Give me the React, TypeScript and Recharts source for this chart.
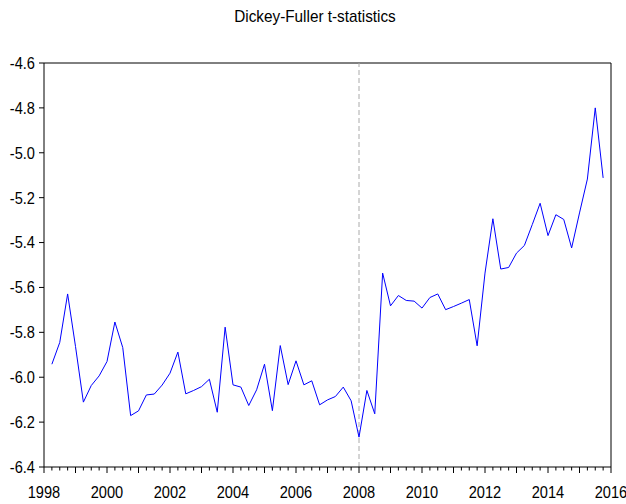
import React from "react";
import { LineChart, Line, XAxis, YAxis, ReferenceLine } from "recharts";

// quarterly t-statistics, 1998Q2 .. 2015Q4
const values = [
  -5.942, -5.845, -5.629, -5.863, -6.111, -6.037, -5.994, -5.93, -5.754, -5.868,
  -6.171, -6.15, -6.079, -6.075, -6.035, -5.982, -5.888, -6.074, -6.059, -6.042,
  -6.009, -6.156, -5.777, -6.034, -6.044, -6.126, -6.056, -5.942, -6.149, -5.859,
  -6.033, -5.927, -6.034, -6.016, -6.123, -6.101, -6.086, -6.044, -6.105, -6.267,
  -6.059, -6.163, -5.536, -5.682, -5.636, -5.658, -5.661, -5.692, -5.645, -5.629,
  -5.699, -5.685, -5.67, -5.654, -5.86, -5.536, -5.294, -5.518, -5.511, -5.447,
  -5.413, -5.32, -5.225, -5.369, -5.276, -5.297, -5.424, -5.268, -5.117, -4.8,
  -5.112,
];

const startYear = 1998;
const endYear = 2016;
const firstQuarter = 1; // index of first observation, quarters since 1998Q1
const breakQuarter = 40; // 2008Q1
const yTicks = [-6.4, -6.2, -6.0, -5.8, -5.6, -5.4, -5.2, -5.0, -4.8, -4.6];

const totalQuarters = (endYear - startYear) * 4;
const xTicks = Array.from({ length: totalQuarters + 1 }, (_, i) => i);
const data = values.map((v, i) => ({ t: firstQuarter + i, value: v }));

const FONT = '"Liberation Sans", Arial, sans-serif';
const SQUEEZE = 0.86; // reference uses a condensed face

function QuarterTick(props: any) {
  const { x, y, payload } = props;
  const q = payload.value as number;
  const isYear = q % 4 === 0;
  const year = startYear + q / 4;
  return (
    <g>
      <line x1={x} x2={x} y1={y} y2={y + (isYear ? 6 : 3.5)} stroke="#000" strokeWidth={1} />
      {isYear && year % 2 === 0 && (
        <text
          transform={`translate(${x},${y + 25}) scale(${SQUEEZE},1)`}
          textAnchor="middle"
          dominantBaseline="central"
          fontSize={17}
          fontFamily={FONT}
          fill="#000"
        >
          {year}
        </text>
      )}
    </g>
  );
}

function ValueTick(props: any) {
  const { x, y, payload } = props;
  return (
    <text
      transform={`translate(${x},${y}) scale(${SQUEEZE},1)`}
      textAnchor="end"
      dominantBaseline="central"
      fontSize={17}
      fontFamily={FONT}
      fill="#000"
    >
      {(payload.value as number).toFixed(1)}
    </text>
  );
}

export default function App() {
  return (
    <div style={{ position: "absolute", left: 0, top: 0, width: 626, height: 504, background: "#fff" }}>
      <div
        style={{
          position: "absolute",
          left: 0,
          width: 630,
          top: 7,
          textAlign: "center",
          fontFamily: FONT,
          fontSize: 17,
          color: "#000",
          transform: `scaleX(${SQUEEZE + 0.04})`,
        }}
      >
        Dickey-Fuller t-statistics
      </div>
      <LineChart
        width={626}
        height={504}
        data={data}
        margin={{ top: 63, right: 15, bottom: 7, left: 0 }}
      >
        <XAxis
          dataKey="t"
          type="number"
          domain={[0, totalQuarters]}
          ticks={xTicks}
          interval={0}
          tick={<QuarterTick />}
          tickLine={false}
          tickSize={0}
          tickMargin={0}
          height={30}
          axisLine={{ stroke: "#000" }}
        />
        <YAxis
          type="number"
          domain={[-6.4, -4.6]}
          ticks={yTicks}
          interval={0}
          width={44}
          tickSize={5}
          tickMargin={4}
          tick={<ValueTick />}
          tickLine={{ stroke: "#000" }}
          axisLine={{ stroke: "#000" }}
        />
        <ReferenceLine y={-4.6} stroke="#000" />
        <ReferenceLine x={totalQuarters} stroke="#000" />
        <ReferenceLine x={breakQuarter} stroke="#aaaaaa" strokeDasharray="5 3" />
        <Line
          dataKey="value"
          stroke="#0000ff"
          strokeWidth={1}
          dot={false}
          isAnimationActive={false}
        />
      </LineChart>
    </div>
  );
}
